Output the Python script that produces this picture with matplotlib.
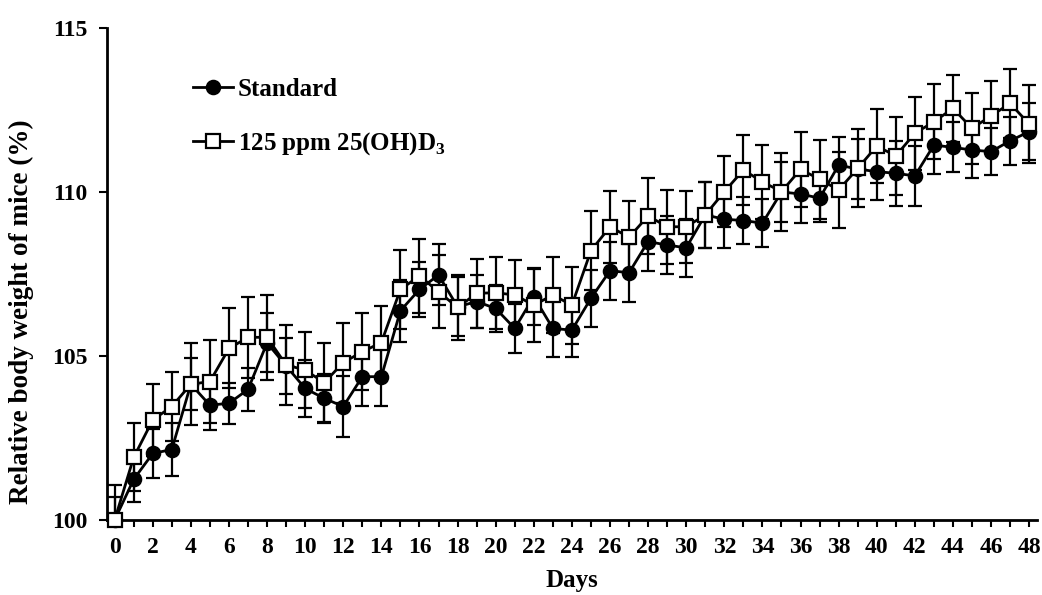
import matplotlib
matplotlib.use('Agg')
import matplotlib.pyplot as plt
from matplotlib.ticker import MultipleLocator

# days of feeding
days = list(range(0, 49))

# relative body weight (%)
standard = [100.0, 101.24, 102.03, 102.15, 104.14, 103.5, 103.56, 103.98, 105.4, 104.7,
            104.01, 103.71, 103.46, 104.37, 104.37, 106.38, 107.03, 107.47, 106.5, 106.66,
            106.45, 105.84, 106.81, 105.84, 105.79, 106.76, 107.6, 107.54, 108.49, 108.38,
            108.3, 109.3, 109.17, 109.13, 109.05, 110.0, 109.94, 109.81, 110.82, 110.7,
            110.62, 110.57, 110.49, 111.43, 111.36, 111.28, 111.23, 111.56, 111.84]
standard_sd = [0.7, 0.69, 0.74, 0.8, 0.8, 0.76, 0.62, 0.66, 0.9, 0.85,
               0.86, 0.74, 0.92, 0.89, 0.89, 0.94, 0.85, 0.93, 0.9, 0.82,
               0.71, 0.74, 0.85, 0.86, 0.81, 0.87, 0.89, 0.88, 0.9, 0.88,
               0.88, 1.0, 0.87, 0.72, 0.74, 0.9, 0.89, 0.71, 0.85, 0.9,
               0.86, 0.99, 0.91, 0.89, 0.76, 0.86, 0.71, 0.74, 0.86]

ohd3 = [100.0, 101.91, 103.05, 103.46, 104.14, 104.22, 105.23, 105.57, 105.57, 104.73,
        104.57, 104.19, 104.8, 105.13, 105.41, 107.03, 107.44, 106.96, 106.48, 106.91,
        106.93, 106.86, 106.55, 106.86, 106.55, 108.21, 108.94, 108.62, 109.27, 108.94,
        108.94, 109.3, 110.01, 110.67, 110.31, 110.01, 110.69, 110.39, 110.06, 110.72,
        111.4, 111.1, 111.79, 112.14, 112.55, 111.94, 112.32, 112.7, 112.07]
ohd3_sd = [1.07, 1.04, 1.09, 1.06, 1.25, 1.27, 1.22, 1.24, 1.3, 1.22,
           1.17, 1.2, 1.22, 1.17, 1.11, 1.2, 1.12, 1.12, 1.0, 1.06,
           1.1, 1.07, 1.12, 1.17, 1.17, 1.2, 1.1, 1.1, 1.15, 1.12,
           1.09, 1.0, 1.09, 1.07, 1.12, 1.19, 1.15, 1.2, 1.17, 1.19,
           1.12, 1.18, 1.11, 1.14, 1.02, 1.09, 1.06, 1.04, 1.19]

plt.rcParams['font.family'] = ['Liberation Serif', 'DejaVu Serif']
plt.rcParams['font.weight'] = 'bold'
plt.rcParams['mathtext.fontset'] = 'custom'
plt.rcParams['mathtext.rm'] = 'Liberation Serif:bold'

fig = plt.figure(figsize=(10.42, 5.95), dpi=100)
ax = fig.add_axes([0.1027, 0.126, 0.8923, 0.827])

# error bars (clipped at the axis), then lines + markers on top
ax.errorbar(days, standard, yerr=standard_sd, fmt='none', ecolor='black',
            elinewidth=1.6, capsize=5, capthick=1.6, zorder=2)
ax.errorbar(days, ohd3, yerr=ohd3_sd, fmt='none', ecolor='black',
            elinewidth=1.6, capsize=5, capthick=1.6, zorder=2)

ax.plot(days, standard, '-o', color='black', lw=2, ms=10,
        mfc='black', mec='black', mew=1.2, clip_on=False, zorder=3,
        label='Standard')
ax.plot(days, ohd3, '-s', color='black', lw=2, ms=10.5,
        mfc='white', mec='black', mew=1.6, clip_on=False, zorder=4,
        label='125 ppm 25(OH)D$_3$')

ax.set_xlim(-0.4, 48.4)
ax.set_ylim(100, 115)
ax.xaxis.set_major_locator(MultipleLocator(2))
ax.xaxis.set_minor_locator(MultipleLocator(1))
ax.yaxis.set_major_locator(MultipleLocator(5))

for s in ['top', 'right']:
    ax.spines[s].set_visible(False)
for s in ['left', 'bottom']:
    ax.spines[s].set_linewidth(2)

ax.tick_params(axis='x', which='both', direction='out', length=5, width=1.5,
               labelsize=17, pad=7)
ax.tick_params(axis='y', which='major', direction='out', length=6, width=1.5,
               labelsize=17, pad=8)

ax.set_xlabel('Days', fontsize=18, fontweight='bold', labelpad=8)
ax.set_ylabel('Relative body weight of mice (%)', fontsize=19.5,
              fontweight='bold')
ax.yaxis.set_label_coords(-0.078, 0.423)

leg = ax.legend(loc='upper left', bbox_to_anchor=(0.068, 0.945), frameon=False,
                fontsize=18, handlelength=1.6, handletextpad=0.2,
                labelspacing=1.2)

fig.savefig('out.png', dpi=100)
